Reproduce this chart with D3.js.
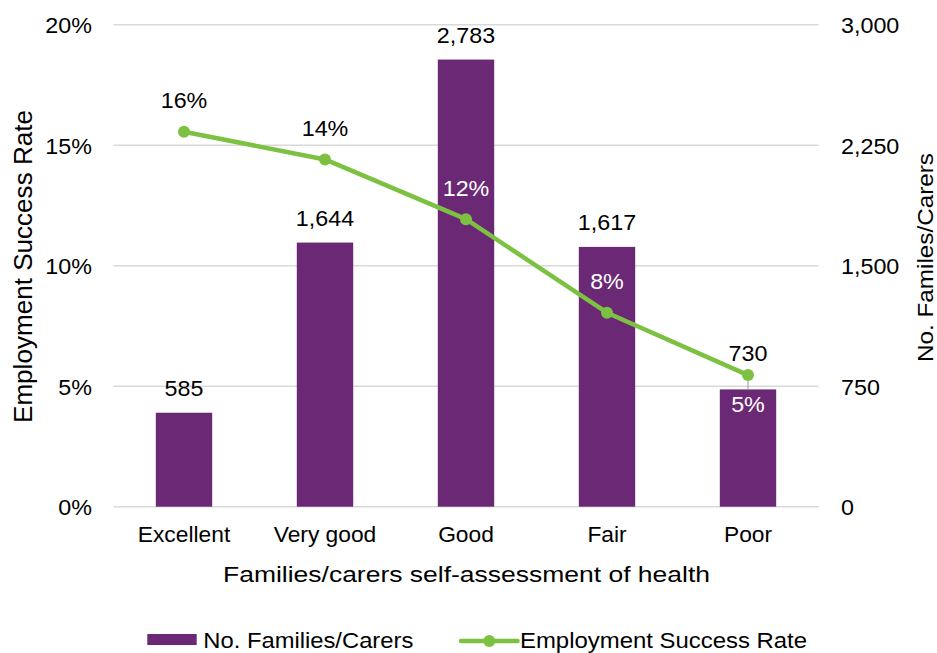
<!DOCTYPE html>
<html>
<head>
<meta charset="utf-8">
<script src="https://cdnjs.cloudflare.com/ajax/libs/d3/7.8.5/d3.min.js"></script>
<style>
  body { margin: 0; background: #fff; }
  svg { display: block; font-family: "Liberation Sans", Arial, sans-serif; }
</style>
</head>
<body>
<div id="chart"></div>
<script>
// chart data
var categories = ["Excellent", "Very good", "Good", "Fair", "Poor"];
var families = [585, 1644, 2783, 1617, 730];
var successRate = [0.1556, 0.1441, 0.1193, 0.0805, 0.0546];
var leftTicks = [0, 0.05, 0.10, 0.15, 0.20];
var rightTicks = [0, 750, 1500, 2250, 3000];

var W = 937, H = 653;
var purple = "#6b2975", green = "#7dc142", grid = "#d9d9d9";
var SX = 1.06; // the source font renders a bit wider than Liberation Sans

var svg = d3.select("#chart").append("svg")
  .attr("width", W).attr("height", H);

var x = d3.scaleBand().domain(categories).range([113.5, 818.5])
  .paddingInner(0.6).paddingOuter(0.3);
var yL = d3.scaleLinear().domain([0, 0.2]).range([506.7, 24.7]);
var yR = d3.scaleLinear().domain([0, 3000]).range([506.7, 24.7]);

var fmtPct = d3.format(".0%");
var fmtNum = d3.format(",");

/** put a horizontally stretched text at x,y */
function label(g, tx, ty, str, size, anchor, fill) {
  return g.append("text")
    .attr("transform", "translate(" + tx + "," + ty + ") scale(" + SX + ",1)")
    .attr("text-anchor", anchor)
    .attr("font-size", size)
    .attr("fill", fill || "#000")
    .text(str);
}

// gridlines
svg.append("g").selectAll("line")
  .data(leftTicks).enter().append("line")
  .attr("x1", 113.5).attr("x2", 818.5)
  .attr("y1", function(d) { return yL(d); })
  .attr("y2", function(d) { return yL(d); })
  .attr("stroke", grid).attr("stroke-width", 1.5);

// axis tick labels
var ax = svg.append("g");
leftTicks.forEach(function(d) { label(ax, 92, yL(d) + 8.5, fmtPct(d), 22, "end"); });
rightTicks.forEach(function(d) { label(ax, 841, yR(d) + 8.5, fmtNum(d), 22, "start"); });
categories.forEach(function(c) { label(ax, x(c) + x.bandwidth() / 2, 542, c, 21.5, "middle"); });

// bars
svg.append("g").selectAll("rect")
  .data(families).enter().append("rect")
  .attr("x", function(d, i) { return x(categories[i]); })
  .attr("width", x.bandwidth())
  .attr("y", function(d) { return yR(d); })
  .attr("height", function(d) { return yR(0) - yR(d); })
  .attr("fill", purple);

// bar labels (last one pulled up with a leader)
var bl = svg.append("g");
families.forEach(function(d, i) {
  var cx = x(categories[i]) + x.bandwidth() / 2;
  var lift = i === families.length - 1 ? 28 : 17;
  if (i === families.length - 1) {
    bl.append("line").attr("x1", cx).attr("x2", cx)
      .attr("y1", yR(d) - lift + 8).attr("y2", yR(d))
      .attr("stroke", "#a6a6a6").attr("stroke-width", 1.2);
  }
  label(bl, cx, yR(d) - lift, fmtNum(d), 22, "middle");
});

// line series
var pts = successRate.map(function(d, i) {
  return [x(categories[i]) + x.bandwidth() / 2, yL(d)];
});
svg.append("path")
  .attr("d", d3.line()(pts))
  .attr("fill", "none").attr("stroke", green)
  .attr("stroke-width", 4.5).attr("stroke-linejoin", "round");
svg.append("g").selectAll("circle")
  .data(pts).enter().append("circle")
  .attr("cx", function(d) { return d[0]; })
  .attr("cy", function(d) { return d[1]; })
  .attr("r", 6).attr("fill", green);

var ll = svg.append("g");
successRate.forEach(function(d, i) {
  var p = pts[i];
  var inBar = i >= 2;
  var below = i === successRate.length - 1;
  label(ll, p[0], below ? p[1] + 36.5 : p[1] - 23.5, fmtPct(d), 22, "middle", inBar ? "#fff" : "#000");
});

// axis titles
svg.append("text")
  .attr("transform", "translate(32,266.5) rotate(-90)")
  .attr("text-anchor", "middle").attr("font-size", 25)
  .attr("textLength", 313).attr("lengthAdjust", "spacingAndGlyphs")
  .text("Employment Success Rate");
svg.append("text")
  .attr("transform", "translate(933,257.5) rotate(-90)")
  .attr("text-anchor", "middle").attr("font-size", 22)
  .attr("textLength", 209).attr("lengthAdjust", "spacingAndGlyphs")
  .text("No. Familes/Carers");
svg.append("text")
  .attr("x", 466.5).attr("y", 582)
  .attr("text-anchor", "middle").attr("font-size", 22)
  .attr("textLength", 487).attr("lengthAdjust", "spacingAndGlyphs")
  .text("Families/carers self-assessment of health");

// legend
var lg = svg.append("g");
lg.append("rect").attr("x", 147.3).attr("y", 634).attr("width", 49.4).attr("height", 11).attr("fill", purple);
lg.append("text").attr("x", 203.3).attr("y", 648).attr("font-size", 22)
  .attr("textLength", 210).attr("lengthAdjust", "spacingAndGlyphs")
  .text("No. Families/Carers");
lg.append("line").attr("x1", 461).attr("x2", 517.5).attr("y1", 641).attr("y2", 641)
  .attr("stroke", green).attr("stroke-width", 4.5).attr("stroke-linecap", "round");
lg.append("circle").attr("cx", 489.3).attr("cy", 641).attr("r", 6).attr("fill", green);
lg.append("text").attr("x", 520).attr("y", 648).attr("font-size", 22)
  .attr("textLength", 287).attr("lengthAdjust", "spacingAndGlyphs")
  .text("Employment Success Rate");
</script>
</body>
</html>
